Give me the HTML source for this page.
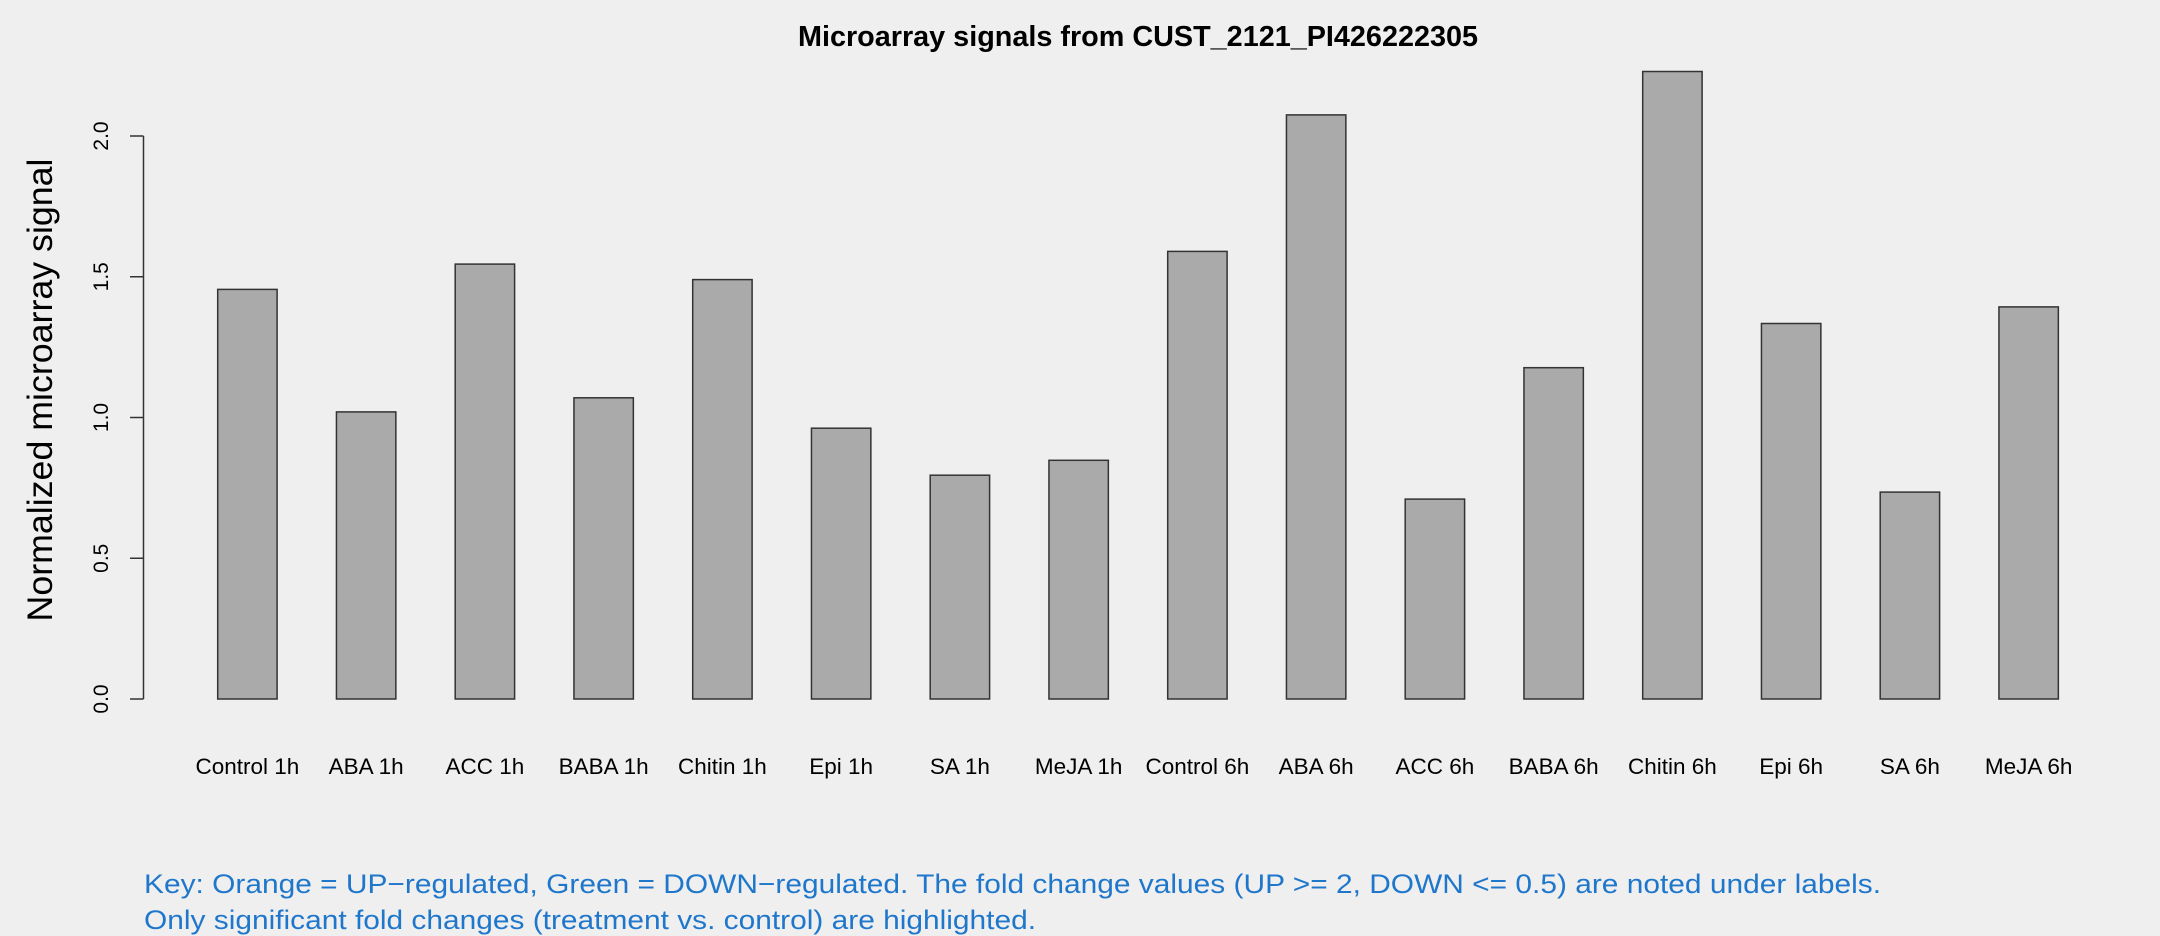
<!DOCTYPE html>
<html><head><meta charset="utf-8"><style>body{margin:0;background:#efefef}svg{display:block}</style></head><body>
<svg width="2160" height="936" xmlns="http://www.w3.org/2000/svg" font-family="Liberation Sans, sans-serif">
<rect width="2160" height="936" fill="#efefef"/>
<text x="1138" y="46" font-size="29" font-weight="bold" text-anchor="middle" textLength="680" lengthAdjust="spacingAndGlyphs">Microarray signals from CUST_2121_PI426222305</text>
<text transform="translate(52,390) rotate(-90)" font-size="35" text-anchor="middle" textLength="463" lengthAdjust="spacingAndGlyphs">Normalized microarray signal</text>
<g stroke="#333" stroke-width="1.5" fill="none">
<line x1="143.5" y1="136" x2="143.5" y2="699"/>
<line x1="130" y1="136" x2="143.5" y2="136"/>
<line x1="130" y1="276.75" x2="143.5" y2="276.75"/>
<line x1="130" y1="417.5" x2="143.5" y2="417.5"/>
<line x1="130" y1="558.25" x2="143.5" y2="558.25"/>
<line x1="130" y1="699" x2="143.5" y2="699"/>
</g>
<g font-size="21" text-anchor="middle">
<text transform="translate(108,136) rotate(-90)">2.0</text>
<text transform="translate(108,276.75) rotate(-90)">1.5</text>
<text transform="translate(108,417.5) rotate(-90)">1.0</text>
<text transform="translate(108,558.25) rotate(-90)">0.5</text>
<text transform="translate(108,699) rotate(-90)">0.0</text>
</g>
<g fill="#aaaaaa" stroke="#333" stroke-width="1.5">
<rect x="217.7" y="289.4" width="59.4" height="409.6"/>
<rect x="336.45" y="411.9" width="59.4" height="287.1"/>
<rect x="455.2" y="264.1" width="59.4" height="434.9"/>
<rect x="573.95" y="397.8" width="59.4" height="301.2"/>
<rect x="692.7" y="279.6" width="59.4" height="419.4"/>
<rect x="811.45" y="428.2" width="59.4" height="270.8"/>
<rect x="930.2" y="475.2" width="59.4" height="223.8"/>
<rect x="1048.95" y="460.3" width="59.4" height="238.7"/>
<rect x="1167.7" y="251.4" width="59.4" height="447.6"/>
<rect x="1286.45" y="114.9" width="59.4" height="584.1"/>
<rect x="1405.2" y="499.1" width="59.4" height="199.9"/>
<rect x="1523.95" y="367.7" width="59.4" height="331.3"/>
<rect x="1642.7" y="71.5" width="59.4" height="627.5"/>
<rect x="1761.45" y="323.5" width="59.4" height="375.5"/>
<rect x="1880.2" y="492.1" width="59.4" height="206.9"/>
<rect x="1998.95" y="306.9" width="59.4" height="392.1"/>
</g>
<g font-size="22.5" text-anchor="middle">
<text x="247.4" y="774">Control 1h</text>
<text x="366.15" y="774">ABA 1h</text>
<text x="484.9" y="774">ACC 1h</text>
<text x="603.65" y="774">BABA 1h</text>
<text x="722.4" y="774">Chitin 1h</text>
<text x="841.15" y="774">Epi 1h</text>
<text x="959.9" y="774">SA 1h</text>
<text x="1078.65" y="774">MeJA 1h</text>
<text x="1197.4" y="774">Control 6h</text>
<text x="1316.15" y="774">ABA 6h</text>
<text x="1434.9" y="774">ACC 6h</text>
<text x="1553.65" y="774">BABA 6h</text>
<text x="1672.4" y="774">Chitin 6h</text>
<text x="1791.15" y="774">Epi 6h</text>
<text x="1909.9" y="774">SA 6h</text>
<text x="2028.65" y="774">MeJA 6h</text>
</g>
<g fill="#1f77cc" font-size="27">
<text x="144" y="893" textLength="1737" lengthAdjust="spacingAndGlyphs">Key: Orange = UP−regulated, Green = DOWN−regulated. The fold change values (UP &gt;= 2, DOWN &lt;= 0.5) are noted under labels.</text>
<text x="144" y="929" textLength="892" lengthAdjust="spacingAndGlyphs">Only significant fold changes (treatment vs. control) are highlighted.</text>
</g>
</svg>
</body></html>
